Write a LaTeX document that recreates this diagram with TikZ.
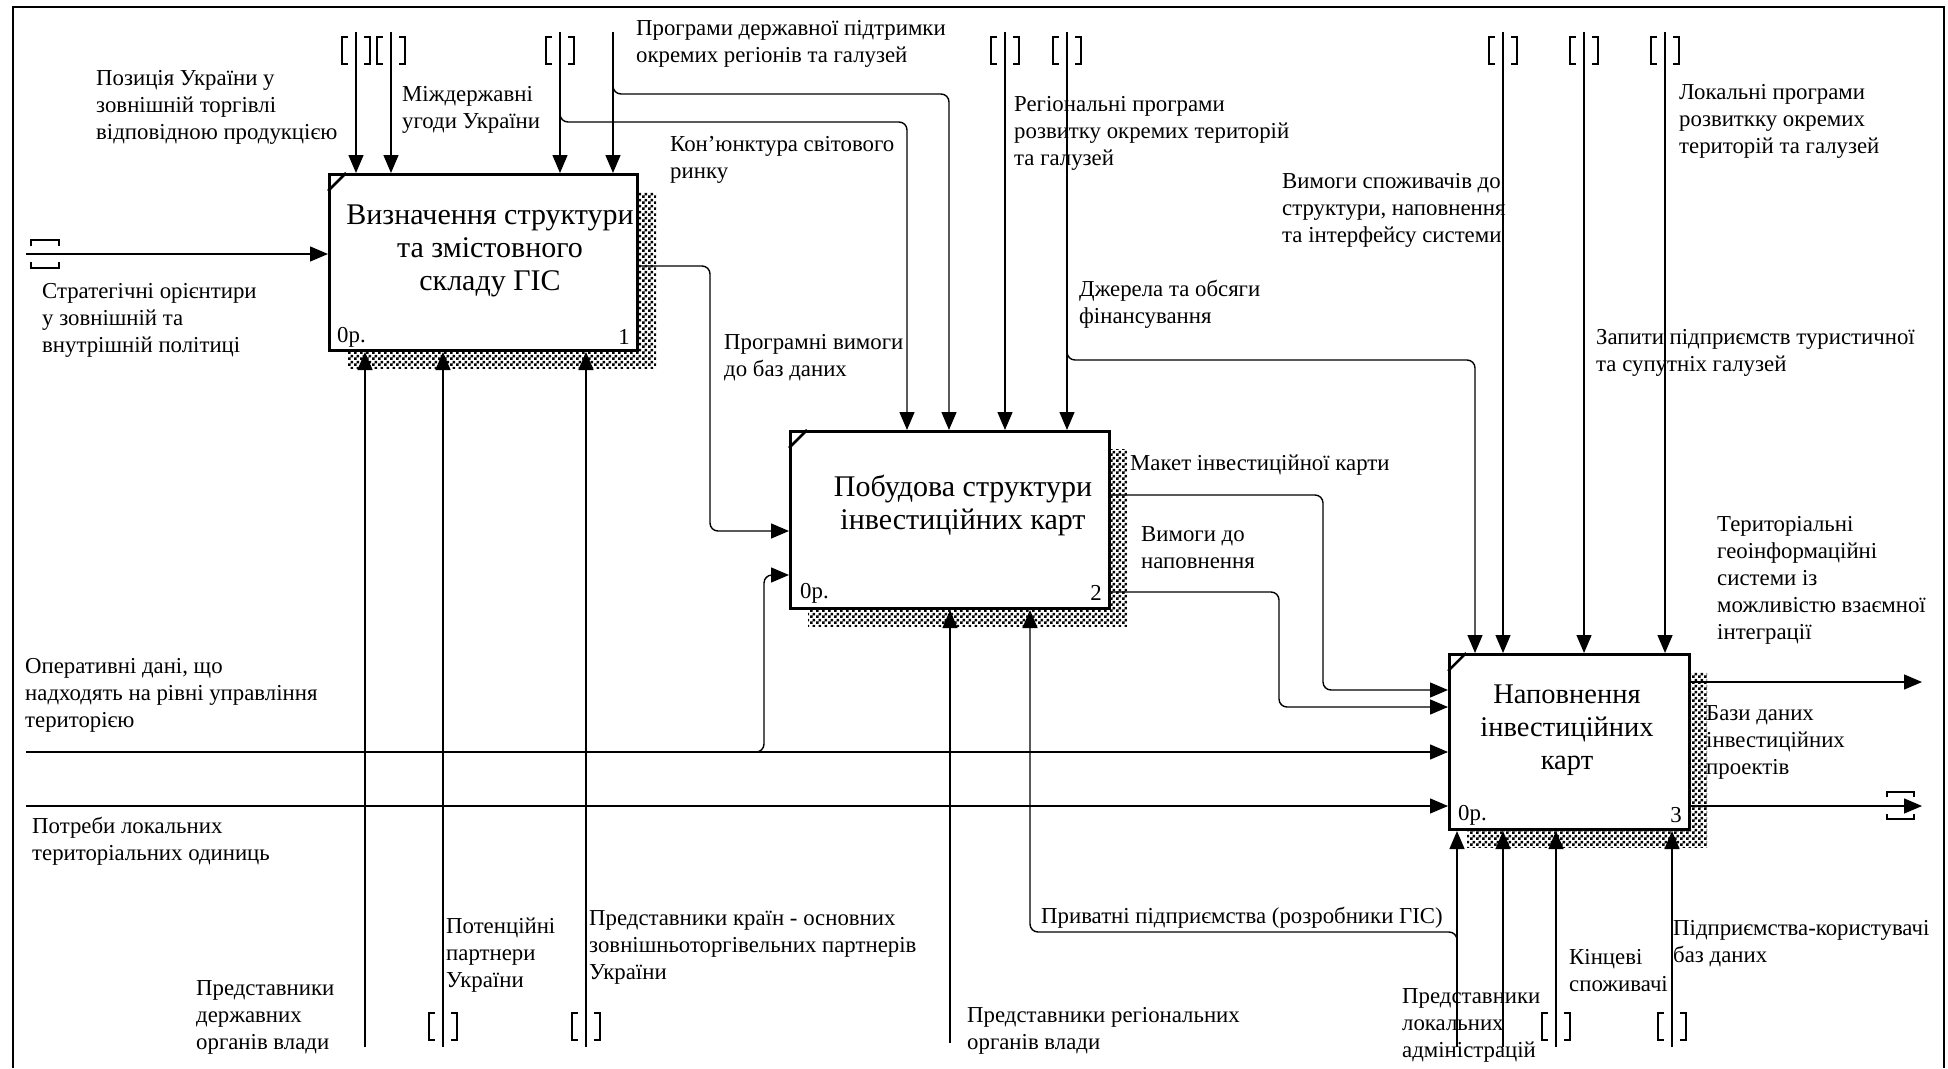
\documentclass[tikz,border=0pt]{standalone}
\usepackage{fontspec}
\setmainfont{Liberation Serif}
\usetikzlibrary{arrows.meta,patterns}
\pgfdeclarepatternformonly{idefshade}{\pgfpointorigin}{\pgfpoint{6pt}{6pt}}{\pgfpoint{6pt}{6pt}}{%
 \pgfpathrectangle{\pgfpointorigin}{\pgfpoint{3pt}{3pt}}%
 \pgfpathrectangle{\pgfpoint{3pt}{3pt}}{\pgfpoint{3pt}{3pt}}%
 \pgfusepath{fill}}
\newcommand\lblfont{\fontsize{22.8pt}{27pt}\selectfont}
\newcommand\ttlfont{\fontsize{30pt}{33pt}\selectfont}
\newcommand\ttlsmall{\fontsize{28.5pt}{33pt}\selectfont}
\newcommand\tunv[2]{%
 \draw[tun] (#1-8,#2) -- (#1-14,#2) -- (#1-14,#2+27) -- (#1-8,#2+27);
 \draw[tun] (#1+8,#2) -- (#1+14,#2) -- (#1+14,#2+27) -- (#1+8,#2+27);}
\begin{document}
\begin{tikzpicture}[x=1pt,y=-1pt,
 lbl/.style={font=\lblfont, align=left, inner sep=0pt, anchor=west},
 ttl/.style={font=\ttlfont, align=center, inner sep=0pt},
 num/.style={font=\lblfont, inner sep=0pt},
 arr/.style={draw, line width=1.4pt, rounded corners=8pt, -{Triangle[length=18pt,width=15pt]}},
 tun/.style={draw, line width=1.4pt},
 box/.style={draw, line width=3pt, fill=white, inner sep=0pt, anchor=north west},
 shade/.style={pattern=idefshade, draw=none},
]
\useasboundingbox (0,0) rectangle (1948,1068);
% frame
\draw[line width=2.5pt] (13,1068) -- (13,7) -- (1944,7) -- (1944,1068);

% shadows
\fill[shade] (348,192) rectangle (656,368);
\fill[shade] (808,449) rectangle (1127,626);
\fill[shade] (1467,672) rectangle (1707,847);

% boxes
\node[box, minimum width=308pt, minimum height=176pt] (b1) at (328,173) {};
\node[box, minimum width=319pt, minimum height=177pt] (b2) at (789,430) {};
\node[box, minimum width=240pt, minimum height=175pt] (b3) at (1448,653) {};
\draw[line width=2.5pt] (328,191) -- (346,173);
\draw[line width=2.5pt] (789,448) -- (807,430);
\draw[line width=2.5pt] (1448,671) -- (1466,653);

\node[ttl] (t1) at (490,251) {Визначення структури\\та змістовного\\складу ГІС};
\node[ttl] (t2) at (963,505) {Побудова структури\\інвестиційних карт};
\node[ttl, font=\ttlsmall] (t3) at (1567,730) {Наповнення\\інвестиційних\\карт};
\node[num, anchor=west] (n1a) at (337,337) {0р.};
\node[num, anchor=east] (n1b) at (630,337) {1};
\node[num, anchor=west] (n2a) at (800,593) {0р.};
\node[num, anchor=east] (n2b) at (1102,593) {2};
\node[num, anchor=west] (n3a) at (1458,815) {0р.};
\node[num, anchor=east] (n3b) at (1682,815) {3};

% control start points
\coordinate (c1) at (356,32);
\coordinate (c2) at (391,32);
\coordinate (c3) at (560,32);
\coordinate (c4) at (613,32);
\coordinate (c5) at (1005,32);
\coordinate (c6) at (1067,32);
\coordinate (c7) at (1503,32);
\coordinate (c8) at (1584,32);
\coordinate (c9) at (1665,32);
\draw[arr] (c1) -- (c1 |- b1.north);
\draw[arr] (c2) -- (c2 |- b1.north);
\draw[arr] (c3) -- (c3 |- b1.north);
\draw[arr] (c4) -- (c4 |- b1.north);
\draw[arr] (c5) -- (c5 |- b2.north);
\draw[arr] (c6) -- (c6 |- b2.north);
\draw[arr] (c7) -- (c7 |- b3.north);
\draw[arr] (c8) -- (c8 |- b3.north);
\draw[arr] (c9) -- (c9 |- b3.north);
% branches of controls
\coordinate (k3) at (907,122);
\coordinate (k4) at (949,94);
\coordinate (k6) at (1475,360);
\draw[arr] (560,100) -- (c3 |- k3) -- (k3) -- (k3 |- b2.north);
\draw[arr] (613,70) -- (c4 |- k4) -- (k4) -- (k4 |- b2.north);
\draw[arr] (1067,330) -- (c6 |- k6) -- (k6) -- (k6 |- b3.north);
\tunv{356}{37}
\tunv{391}{37}
\tunv{560}{37}
\tunv{1005}{37}
\tunv{1067}{37}
\tunv{1503}{37}
\tunv{1584}{37}
\tunv{1665}{37}

% mechanisms
\coordinate (m1) at (365,1047);
\coordinate (m2) at (443,1047);
\coordinate (m3) at (586,1047);
\coordinate (m4) at (950,1043);
\coordinate (m5) at (1457,1047);
\coordinate (m6) at (1503,1047);
\coordinate (m7) at (1556,1047);
\coordinate (m8) at (1672,1047);
\draw[arr] (m1) -- (m1 |- b1.south);
\draw[arr] (m2) -- (m2 |- b1.south);
\draw[arr] (m3) -- (m3 |- b1.south);
\draw[arr] (m4) -- (m4 |- b2.south);
\draw[arr] (m5) -- (m5 |- b3.south);
\draw[arr] (m6) -- (m6 |- b3.south);
\draw[arr] (m7) -- (m7 |- b3.south);
\draw[arr] (m8) -- (m8 |- b3.south);
\coordinate (k5) at (1030,932);
\draw[arr] (1457,965) -- (m5 |- k5) -- (k5) -- (k5 |- b2.south);
\tunv{443}{1013}
\tunv{586}{1013}
\tunv{1556}{1013}
\tunv{1672}{1013}

% inputs
\coordinate (in1) at (26,254);
\coordinate (in2) at (26,752);
\coordinate (in3) at (26,806);
\draw[arr] (in1) -- (in1 -| b1.west);
\draw[arr] (in2) -- (in2 -| b3.west);
\draw[arr] (in3) -- (in3 -| b3.west);
\coordinate (k2) at (764,575);
\draw[arr] (740,752) -- (k2 |- in2) -- (k2) -- (k2 -| b2.west);
\draw[tun] (31,246) -- (31,240) -- (59,240) -- (59,246);
\draw[tun] (31,262) -- (31,268) -- (59,268) -- (59,262);

% outputs
\coordinate (o1) at (710,266);
\coordinate (o2) at (1323,495);
\coordinate (o3) at (1279,592);
\coordinate (e2) at (1323,690);
\coordinate (e3) at (1279,707);
\coordinate (e1) at (710,531);
\draw[arr] (b1.east |- o1) -- (o1) -- (e1) -- (e1 -| b2.west);
\draw[arr] (b2.east |- o2) -- (o2) -- (e2) -- (e2 -| b3.west);
\draw[arr] (b2.east |- o3) -- (o3) -- (e3) -- (e3 -| b3.west);
\coordinate (out1) at (1922,682);
\coordinate (out2) at (1922,806);
\draw[arr] (out1 -| b3.east) -- (out1);
\draw[arr] (out2 -| b3.east) -- (out2);
\draw[tun] (1887,797) -- (1887,792) -- (1914,792) -- (1914,797);
\draw[tun] (1887,814) -- (1887,819) -- (1914,819) -- (1914,814);

% labels
\node[lbl] (l1) at (96,107) {Позиція України у\\зовнішній торгівлі\\відповідною продукцією};
\node[lbl] (l2) at (402,110) {Міждержавні\\угоди України};
\node[lbl] (l3) at (636,44) {Програми державної підтримки\\окремих регіонів та галузей};
\node[lbl] (l4) at (670,160) {Кон\char39 юнктура світового\\ринку};
\node[lbl] (l5) at (1014,133) {Регіональні програми\\розвитку окремих територій\\та галузей};
\node[lbl] (l6) at (1282,210) {Вимоги споживачів до\\структури, наповнення\\та інтерфейсу системи};
\node[lbl] (l7) at (1679,121) {Локальні програми\\розвиткку окремих\\територій та галузей};
\node[lbl] (l8) at (1079,304) {Джерела та обсяги\\фінансування};
\node[lbl] (l9) at (1596,353) {Запити підприємств туристичної\\та супутніх галузей};
\node[lbl] (l10) at (724,358) {Програмні вимоги\\до баз даних};
\node[lbl] (l11) at (42,320) {Стратегічні орієнтири\\у зовнішній та\\внутрішній політиці};
\node[lbl] (l12) at (1130,465) {Макет інвестиційної карти};
\node[lbl] (l13) at (1141,548) {Вимоги до\\наповнення};
\node[lbl] (l14) at (1717,580) {Територіальні\\геоінформаційні\\системи із\\можливістю взаємної\\інтеграції};
\node[lbl] (l15) at (1706,742) {Бази даних\\інвестиційних\\проектів};
\node[lbl] (l16) at (25,695) {Оперативні дані, що\\надходять на рівні управління\\територією};
\node[lbl] (l17) at (32,841) {Потреби локальних\\територіальних одиниць};
\node[lbl] (l18) at (196,1017) {Представники\\державних\\органів влади};
\node[lbl] (l19) at (446,955) {Потенційні\\партнери\\України};
\node[lbl] (l20) at (589,947) {Представники країн - основних\\зовнішньоторгівельних партнерів\\України};
\node[lbl] (l21) at (1041,918) {Приватні підприємства (розробники ГІС)};
\node[lbl] (l22) at (967,1031) {Представники регіональних\\органів влади};
\node[lbl] (l23) at (1402,1025) {Представники\\локальних\\адміністрацій};
\node[lbl] (l24) at (1569,971) {Кінцеві\\споживачі};
\node[lbl] (l25) at (1673,944) {Підприємства-користувачі\\баз даних};
\end{tikzpicture}
\end{document}
